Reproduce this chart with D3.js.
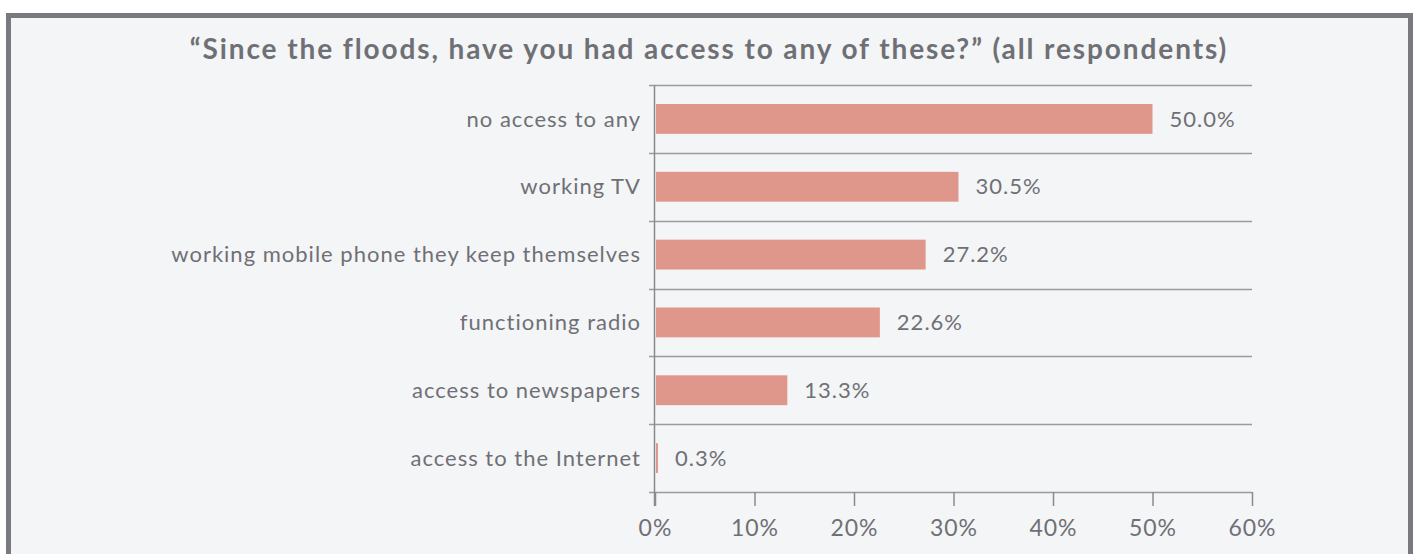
<!DOCTYPE html>
<meta charset="utf-8">
<script src="https://cdn.jsdelivr.net/npm/d3@7"></script>
<style>
body { margin: 0; background: #fff; }
text { font-family: Lato, "Open Sans", sans-serif; fill: #6f7075; }
.title { font-weight: bold; }
</style>
<body>
<script>
  // Data
  var categories = ["no access to any", "working TV", "working mobile phone they keep themselves",
                    "functioning radio", "access to newspapers", "access to the Internet"];
  var values = [50.0, 30.5, 27.2, 22.6, 13.3, 0.3];
  var xTicks = [0, 10, 20, 30, 40, 50, 60];

  var W = 1414, H = 554,
      margin = {top: 85, left: 655, right: 162, bottom: 62},
      width = W - margin.left - margin.right,
      height = H - margin.top - margin.bottom;

  var svg = d3.select("body").append("svg")
    .attr("width", W)
    .attr("height", H);

  // frame
  svg.append("rect")
    .attr("x", 8.5).attr("y", 15.5)
    .attr("width", 1402).attr("height", 560)
    .attr("fill", "#f4f5f7")
    .attr("stroke", "#797a7f")
    .attr("stroke-width", 5);

  svg.append("text")
    .attr("class", "title")
    .attr("x", 709).attr("y", 59)
    .attr("text-anchor", "middle")
    .attr("font-size", "28px")
    .attr("letter-spacing", "1.9px")
    .text("\u201cSince the floods, have you had access to any of these?\u201d (all respondents)");

  var g = svg.append("g")
    .attr("transform", "translate(" + margin.left + "," + margin.top + ")");

  var x = d3.scaleLinear().domain([0, 60]).range([0, width]);
  var y = d3.scaleBand().domain(categories).range([0, height]).paddingInner(0).paddingOuter(0);

  // separators between categories
  var seps = d3.range(categories.length + 1).map(function(i) { return i * y.step(); });
  g.selectAll(".sep")
    .data(seps)
    .enter().append("line")
    .attr("x1", -6).attr("x2", width)
    .attr("y1", function(d) { return Math.round(d) + 0.5; })
    .attr("y2", function(d) { return Math.round(d) + 0.5; })
    .attr("stroke", "#9a9ba0")
    .attr("stroke-width", 1.5);

  // bars
  var barH = y.bandwidth() * 0.44;
  g.selectAll(".bar")
    .data(values)
    .enter().append("rect")
    .attr("x", 1)
    .attr("y", function(d, i) { return y(categories[i]) + (y.bandwidth() - barH) / 2; })
    .attr("width", function(d) { return x(d) - 1; })
    .attr("height", barH)
    .attr("fill", "#df978b");

  g.selectAll(".val")
    .data(values)
    .enter().append("text")
    .attr("x", function(d) { return x(d) + 17; })
    .attr("y", function(d, i) { return y(categories[i]) + y.bandwidth() / 2; })
    .attr("dy", "0.35em")
    .attr("font-size", "22px")
    .attr("letter-spacing", "1px")
    .text(function(d) { return d.toFixed(1) + "%"; });

  g.selectAll(".cat")
    .data(categories)
    .enter().append("text")
    .attr("x", -14)
    .attr("y", function(d) { return y(d) + y.bandwidth() / 2; })
    .attr("dy", "0.35em")
    .attr("text-anchor", "end")
    .attr("font-size", "22px")
    .attr("letter-spacing", "1px")
    .text(function(d) { return d; });

  // vertical axis line
  g.append("line")
    .attr("x1", -0.5).attr("x2", -0.5)
    .attr("y1", 0).attr("y2", height + 14)
    .attr("stroke", "#8a8b90")
    .attr("stroke-width", 1.5);

  // x axis
  var xAxis = g.append("g")
    .attr("transform", "translate(0," + height + ")")
    .call(d3.axisBottom(x).tickValues(xTicks).tickSize(14).tickFormat(function(d) { return d + "%"; }));
  xAxis.select(".domain").remove();
  xAxis.selectAll("line").attr("stroke", "#8a8b90").attr("stroke-width", 1.5);
  xAxis.selectAll("text")
    .attr("font-size", "23px")
    .attr("letter-spacing", "1px")
    .attr("font-family", "Lato, sans-serif")
    .attr("y", 28)
    .attr("dy", "0.71em")
    .attr("fill", "#6f7075");
</script>
</body>
